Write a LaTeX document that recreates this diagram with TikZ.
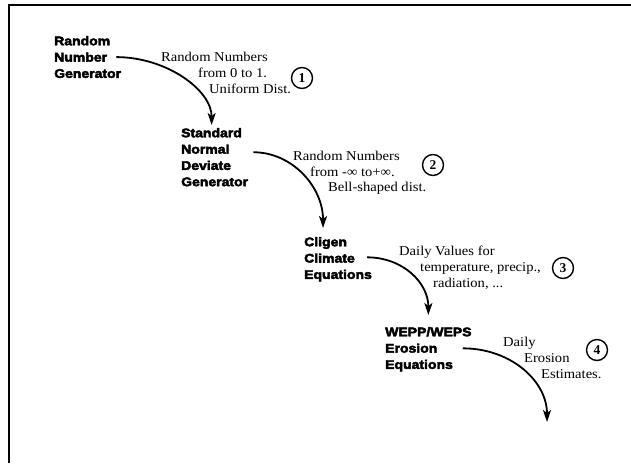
\documentclass[tikz,border=0pt]{standalone}
\usepackage{fontspec}
\usetikzlibrary{arrows.meta}
\newfontfamily\boxfont[FakeStretch=1.12,FakeBold=3.5]{Liberation Sans Bold}
\newfontfamily\notefont[FakeStretch=1.08]{Liberation Serif}
\newfontfamily\numfont{Liberation Serif Bold}
\begin{document}
\begin{tikzpicture}[x=1pt,y=-1pt,
  stage/.style={anchor=north west,inner sep=0pt,align=left,
    font=\boxfont\fontsize{12.5}{16.3}\selectfont},
  note/.style={anchor=north west,inner sep=0pt,align=left,
    font=\notefont\fontsize{13.5}{16}\selectfont},
  num/.style={circle,draw,line width=1.4pt,inner sep=0pt,minimum size=21pt,
    font=\numfont\fontsize{13.5}{13.5}\selectfont},
  flow/.style={line width=1.8pt,-{Stealth[length=12pt,width=8pt,inset=3pt]}},
  frame/.style={line width=2pt}]
\useasboundingbox (0,0) rectangle (631,463);
\fill[white] (0,0) rectangle (631,463);
\draw[frame] (9,463) -- (9,5) -- (631,5);

\node[stage] (n1) at (54,36) {Random\\Number\\Generator};
\node[stage] (n2) at (181,128) {Standard\\Normal\\Deviate\\Generator};
\node[stage] (n3) at (304,237) {Cligen\\Climate\\Equations};
\node[stage] (n4) at (385,327) {WEPP/WEPS\\Erosion\\Equations};
\coordinate (end4) at (547,422);

\node[note] (l1) at (161,52) {Random Numbers\\\hspace*{37pt}from 0 to 1.\\\hspace*{48pt}Uniform Dist.};
\node[note,font=\notefont\fontsize{13.5}{15.5}\selectfont] (l2) at (293,151) {Random Numbers\\\hspace*{17pt}from -∞ to+∞.\\\hspace*{35pt}Bell-shaped dist.};
\node[note] (l3) at (399,246) {Daily Values for\\\hspace*{21pt}temperature, precip.,\\\hspace*{34pt}radiation, ...};
\node[note] (l4) at (503,337) {Daily\\\hspace*{21pt}Erosion\\\hspace*{38pt}Estimates.};

\node[num] (c1) at (302,78) {1};
\node[num] (c2) at (433,165) {2};
\node[num] (c3) at (563,268) {3};
\node[num] (c4) at (597,350) {4};

\draw[flow] ([shift={(-5,0)}]n1.east) .. controls +(50,0) and +(0,-35) .. ([shift={(-3,-3)}]n2.north);
\draw[flow] ([shift={(5,-5)}]n2.east) .. controls +(39,0) and +(0,-41) .. ([shift={(-15,-9)}]n3.north);
\draw[flow] ([shift={(-5,-2)}]n3.east) .. controls +(36,0) and +(0,-32) .. ([shift={(0,-12)}]n4.north);
\draw[flow] ([shift={(-9,-1)}]n4.east) .. controls +(48,0) and +(0,-41) .. (end4);
\end{tikzpicture}
\end{document}
